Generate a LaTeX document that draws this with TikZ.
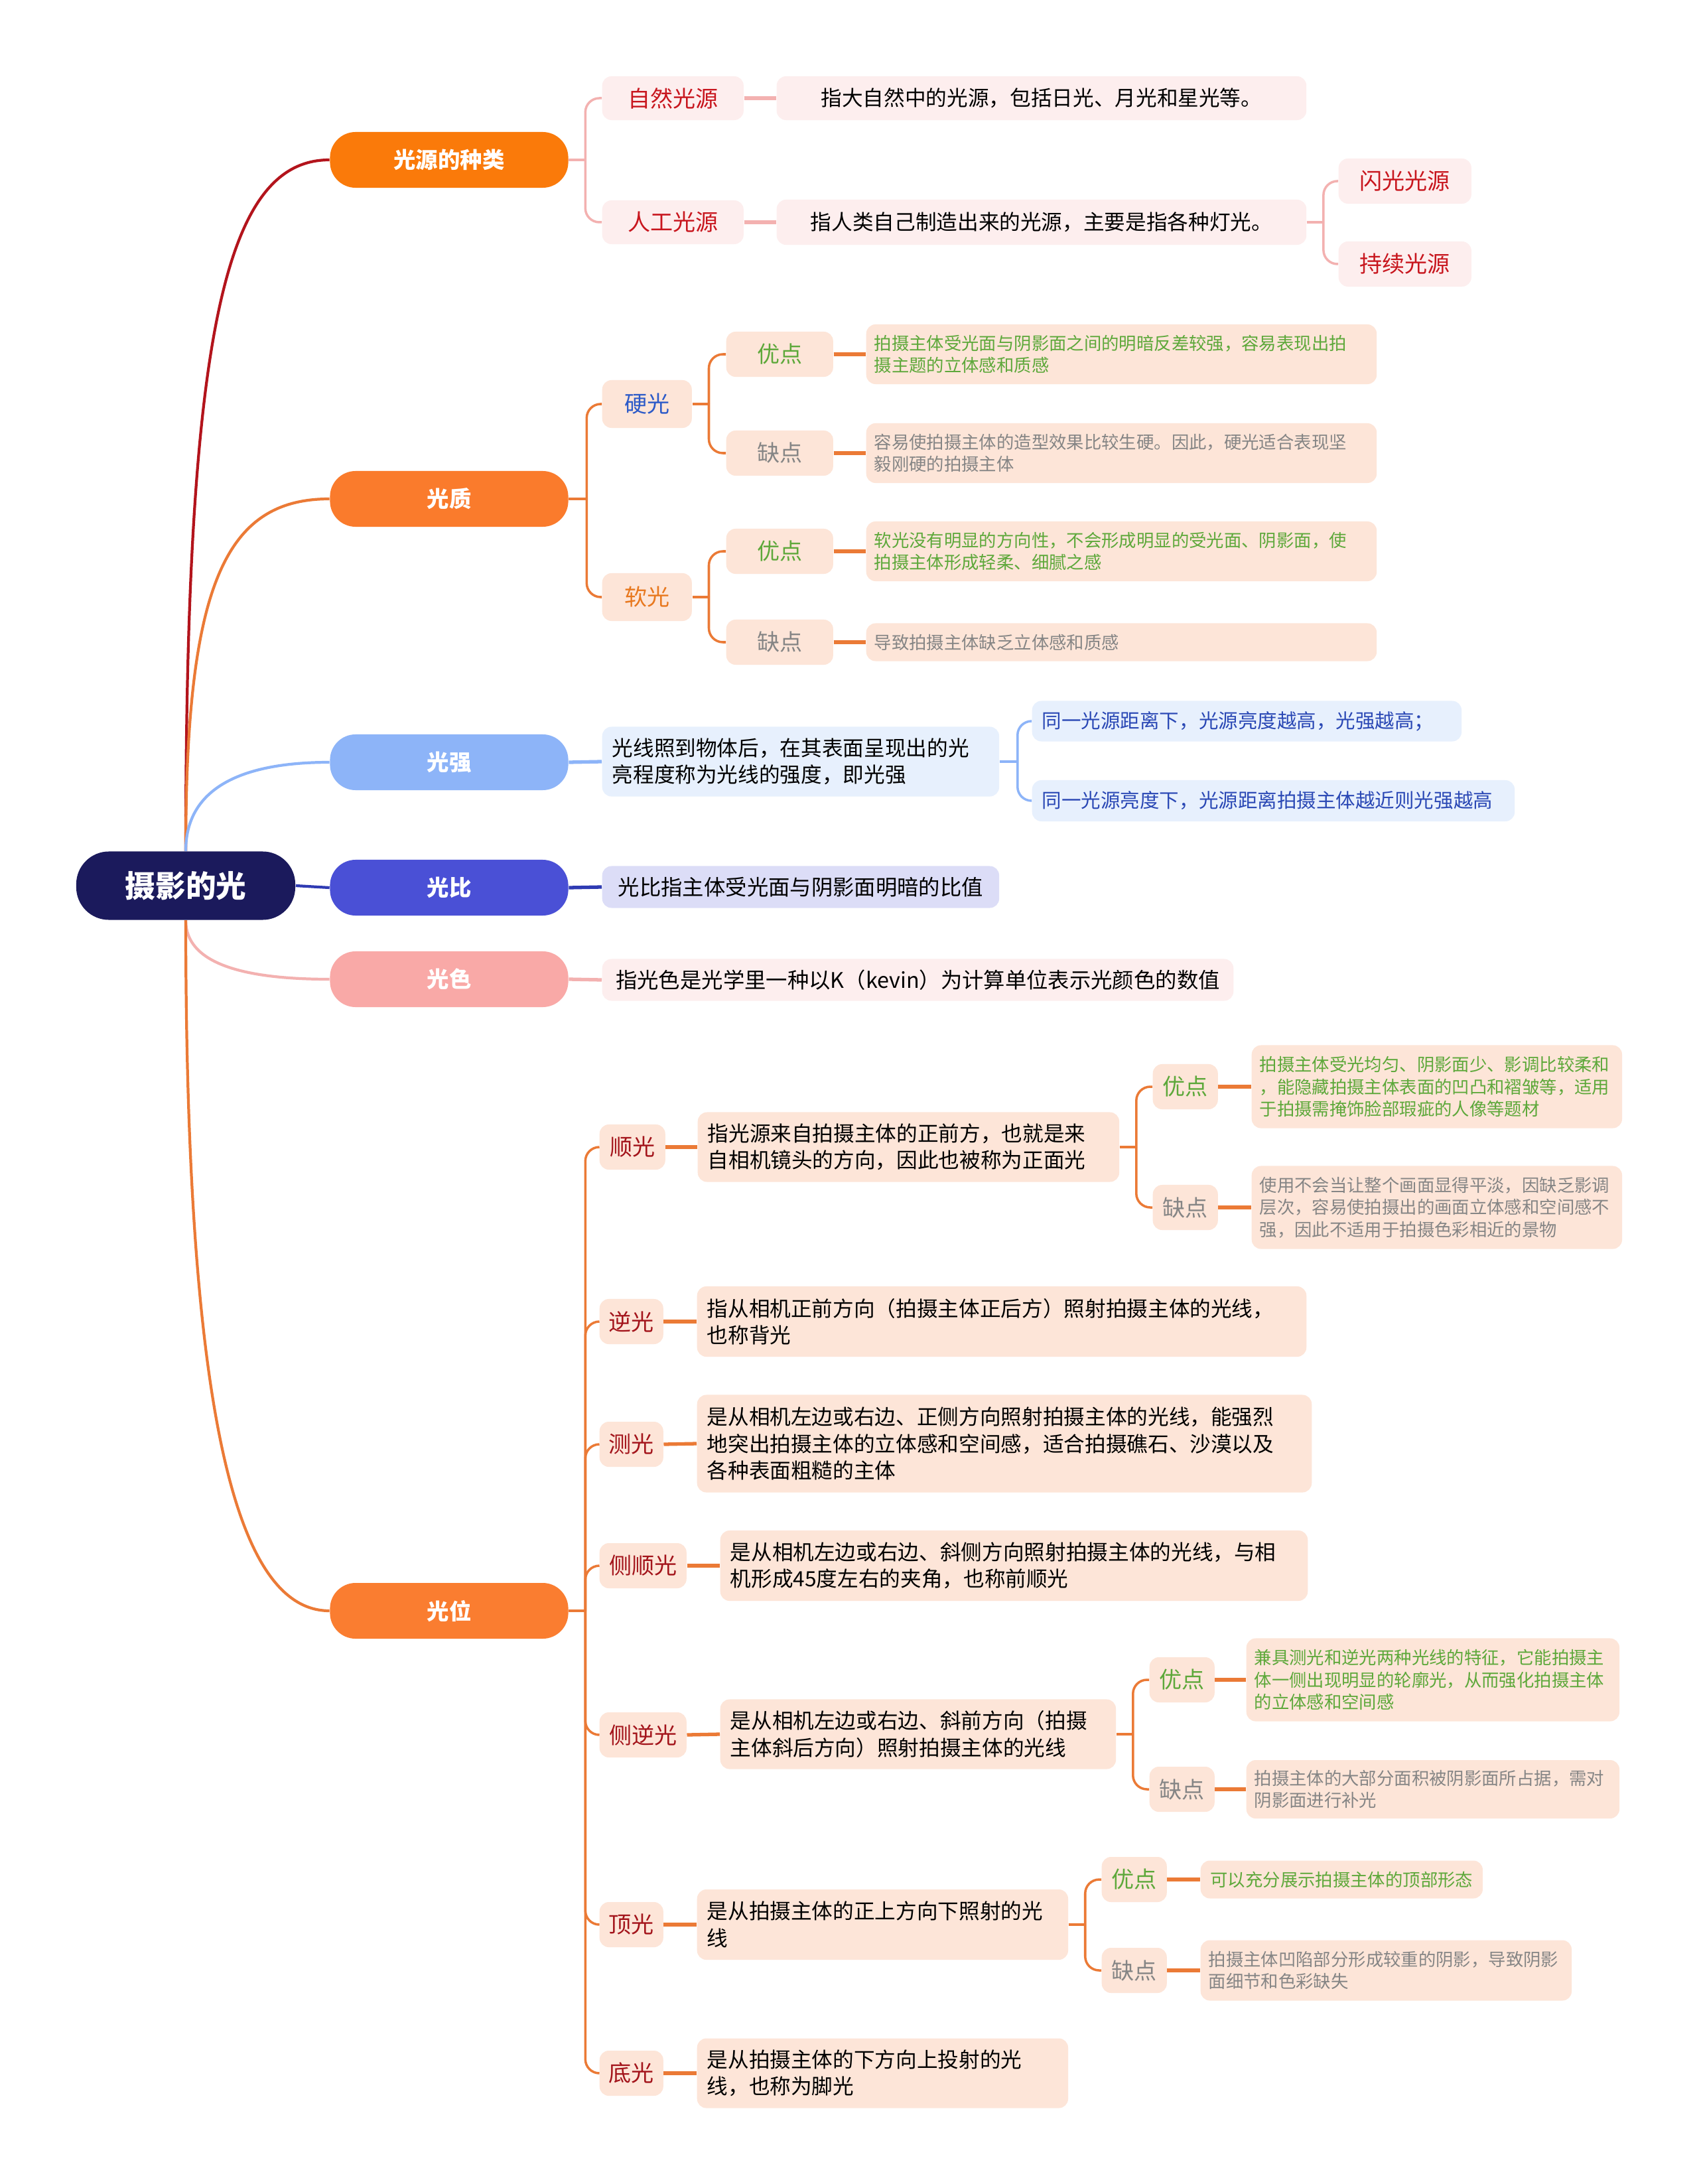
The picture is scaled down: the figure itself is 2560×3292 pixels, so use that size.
\documentclass[tikz,border=0pt]{standalone}
\usepackage{fontspec}
\setmainfont{Noto Sans CJK SC}
\usepackage{tikz}
\usetikzlibrary{positioning}

\definecolor{navy}{HTML}{1B1A5C}
\definecolor{kindor}{HTML}{FA7A0A}
\definecolor{kindln}{HTML}{B3141C}
\definecolor{qualor}{HTML}{FA7B2C}
\definecolor{orln}{HTML}{EB7A36}
\definecolor{intbl}{HTML}{8DB4F8}
\definecolor{ratbl}{HTML}{4A50D6}
\definecolor{ratln}{HTML}{2F3BB3}
\definecolor{colpk}{HTML}{F9A9A7}
\definecolor{pkln}{HTML}{F3B1B0}
\definecolor{posor}{HTML}{FA7D30}
\definecolor{pkbox}{HTML}{FDEEEE}
\definecolor{peach}{HTML}{FDE5D8}
\definecolor{bluebox}{HTML}{E7F0FD}
\definecolor{lavbox}{HTML}{DCDDF7}
\definecolor{redtx}{HTML}{C8161E}
\definecolor{dredtx}{HTML}{A3141B}
\definecolor{bluetx}{HTML}{2C5AC8}
\definecolor{oratx}{HTML}{E8781E}
\definecolor{greentx}{HTML}{5DA83A}
\definecolor{graytx}{HTML}{858585}
\definecolor{navytx}{HTML}{2A48B5}

\begin{document}
\begin{tikzpicture}[x=0.01cm, y=-0.01cm,
  topic/.style={rounded corners=11pt, minimum width=3.59cm, minimum height=0.84cm, text=white, font=\fontsize{9.5}{11}\selectfont\bfseries},
  tag/.style={rounded corners=4pt, anchor=west, inner sep=0pt, minimum height=0.68cm, font=\fontsize{9.7}{11}\selectfont},
  note/.style={rounded corners=4pt, anchor=west, inner xsep=0.15cm, inner ysep=0pt, align=left, font=\fontsize{9}{11.5}\selectfont},
  fine/.style={note, inner xsep=0.12cm, font=\fontsize{7.5}{9.5}\selectfont},
  link/.style={line width=1pt, rounded corners=6pt},
  bold link/.style={line width=1.5pt},
  trunk/.style={line width=1.2pt},
  pro/.style={tag, fill=peach, text=greentx, minimum width=0.98cm},
  con/.style={tag, fill=peach, text=graytx, minimum width=0.98cm},
  pos tag/.style={tag, fill=peach, text=dredtx},
]
  \fill[white] (0,0) rectangle (2560,3292);
  \useasboundingbox (0,0) rectangle (2560,3292);

  % Root and main topics.
  \node[fill=navy, rounded corners=14pt, minimum width=3.3cm, minimum height=1.03cm, text=white,
        font=\fontsize{13}{15}\selectfont\bfseries] (root) at (280,1335) {摄影的光};
  \node[topic, fill=kindor] (kind)  at (677,241)  {光源的种类};
  \node[topic, fill=qualor] (qual)  at (677,752)  {光质};
  \node[topic, fill=intbl]  (inten) at (677,1149) {光强};
  \node[topic, fill=ratbl]  (ratio) at (677,1338) {光比};
  \node[topic, fill=colpk]  (hue)   at (677,1476) {光色};
  \node[topic, fill=posor]  (pos)   at (677,2428) {光位};

  \draw[trunk, kindln] (root.north) .. controls (280,500) and (340,241) .. (kind.west);
  \draw[trunk, orln]   (root.north) .. controls (280,880) and (340,752) .. (qual.west);
  \draw[trunk, intbl]  (root.north) .. controls (280,1190) and (360,1149) .. (inten.west);
  \draw[trunk, ratln]  (root.east) -- (ratio.west);
  \draw[trunk, pkln]   (root.south) .. controls (280,1450) and (360,1476) .. (hue.west);
  \draw[trunk, orln]   (root.south) .. controls (280,2150) and (360,2428) .. (pos.west);

  % Kinds of light source.
  \node[tag, fill=pkbox, text=redtx, minimum width=2.13cm, minimum height=0.66cm] (nat) at (907,148) {自然光源};
  \node[tag, fill=pkbox, text=redtx, minimum width=2.13cm, minimum height=0.66cm] (art) at (907,335) {人工光源};
  \node[note, fill=pkbox, minimum width=7.98cm, minimum height=0.66cm] (natd) at (1170,148) {指大自然中的光源，包括日光、月光和星光等。};
  \node[note, fill=pkbox, minimum width=7.98cm, minimum height=0.68cm] (artd) at (1170,335) {指人类自己制造出来的光源，主要是指各种灯光。};
  \node[tag, fill=pkbox, text=redtx, minimum width=2.0cm] (flash) at (2017,273) {闪光光源};
  \node[tag, fill=pkbox, text=redtx, minimum width=2.0cm] (cont)  at (2017,398) {持续光源};

  \draw[link, pkln] (kind.east) -- ++(25,0);
  \foreach \c in {nat,art}
    \draw[link, pkln] (kind.east) ++(25,0) |- (\c.west);
  \draw[bold link, pkln] (nat.east) -- (natd.west);
  \draw[bold link, pkln] (art.east) -- (artd.west);
  \draw[link, pkln] (artd.east) -- ++(25,0);
  \foreach \c in {flash,cont}
    \draw[link, pkln] (artd.east) ++(25,0) |- (\c.west);

  % Quality of light.
  \node[tag, fill=peach, text=bluetx, minimum width=1.35cm, minimum height=0.72cm] (hard) at (907,609) {硬光};
  \node[tag, fill=peach, text=oratx, minimum width=1.35cm, minimum height=0.72cm] (soft) at (907,900) {软光};
  \node[pro, minimum width=1.61cm] (hpro) at (1094,534) {优点};
  \node[con, minimum width=1.61cm] (hcon) at (1094,683) {缺点};
  \node[pro, minimum width=1.61cm] (spro) at (1094,831) {优点};
  \node[con, minimum width=1.61cm] (scon) at (1094,968) {缺点};
  \node[fine, fill=peach, text=greentx, text width=7.45cm, minimum height=0.9cm] (hprod) at (1305,534)
    {拍摄主体受光面与阴影面之间的明暗反差较强，容易表现出拍\\摄主题的立体感和质感};
  \node[fine, fill=peach, text=graytx, text width=7.45cm, minimum height=0.9cm] (hcond) at (1305,683)
    {容易使拍摄主体的造型效果比较生硬。因此，硬光适合表现坚\\毅刚硬的拍摄主体};
  \node[fine, fill=peach, text=greentx, text width=7.45cm, minimum height=0.9cm] (sprod) at (1305,831)
    {软光没有明显的方向性，不会形成明显的受光面、阴影面，使\\拍摄主体形成轻柔、细腻之感};
  \node[fine, fill=peach, text=graytx, text width=7.45cm, minimum height=0.57cm] (scond) at (1305,968)
    {导致拍摄主体缺乏立体感和质感};

  \draw[link, orln] (qual.east) -- ++(27,0);
  \foreach \c in {hard,soft}
    \draw[link, orln] (qual.east) ++(27,0) |- (\c.west);
  \foreach \p/\a/\b in {hard/hpro/hcon, soft/spro/scon} {
    \draw[link, orln] (\p.east) -- ++(25,0);
    \draw[link, orln] (\p.east) ++(25,0) |- (\a.west);
    \draw[link, orln] (\p.east) ++(25,0) |- (\b.west);
  }
  \foreach \a/\b in {hpro/hprod, hcon/hcond, spro/sprod, scon/scond}
    \draw[bold link, orln] (\a.east) -- (\b.west);

  % Intensity, ratio, colour.
  \node[note, fill=bluebox, text width=5.68cm, minimum height=1.05cm] (intd) at (907,1148)
    {光线照到物体后，在其表面呈现出的光\\亮程度称为光线的强度，即光强};
  \node[note, fill=bluebox, text=navytx, text width=6.17cm, minimum height=0.61cm,
        font=\fontsize{8.4}{10}\selectfont] (int1) at (1555,1087) {同一光源距离下，光源亮度越高，光强越高；};
  \node[note, fill=bluebox, text=navytx, text width=6.97cm, minimum height=0.62cm,
        font=\fontsize{8.4}{10}\selectfont] (int2) at (1555,1207) {同一光源亮度下，光源距离拍摄主体越近则光强越高};
  \node[note, fill=lavbox, minimum width=5.98cm, minimum height=0.63cm,
        font=\fontsize{9.2}{11}\selectfont] (ratd) at (907,1337) {光比指主体受光面与阴影面明暗的比值};
  \node[note, fill=pkbox, minimum width=9.51cm, minimum height=0.63cm,
        font=\fontsize{9.2}{11}\selectfont] (hued) at (907,1477) {指光色是光学里一种以K（kevin）为计算单位表示光颜色的数值};

  \draw[bold link, intbl] (inten.east) -- (intd.west);
  \draw[link, intbl] (intd.east) -- ++(27,0);
  \foreach \c in {int1,int2}
    \draw[link, intbl] (intd.east) ++(27,0) |- (\c.west);
  \draw[bold link, ratln] (ratio.east) -- (ratd.west);
  \draw[bold link, pkln] (hue.east) -- (hued.west);

  % Direction of light.
  \node[pos tag, minimum width=0.99cm] (front)  at (903,1729) {顺光};
  \node[pos tag, minimum width=0.96cm] (back)   at (903,1992) {逆光};
  \node[pos tag, minimum width=0.96cm] (side)   at (903,2177) {测光};
  \node[pos tag, minimum width=1.31cm] (sfront) at (903,2360) {侧顺光};
  \node[pos tag, minimum width=1.31cm] (sback)  at (903,2615) {侧逆光};
  \node[pos tag, minimum width=0.96cm] (top)    at (903,2901) {顶光};
  \node[pos tag, minimum width=0.96cm] (bottom) at (903,3125) {底光};

  \node[note, fill=peach, text width=6.05cm, minimum height=1.05cm] (frontd) at (1051,1729)
    {指光源来自拍摄主体的正前方，也就是来\\自相机镜头的方向，因此也被称为正面光};
  \node[note, fill=peach, text width=8.88cm, minimum height=1.06cm] (backd) at (1050,1992)
    {指从相机正前方向（拍摄主体正后方）照射拍摄主体的光线，\\也称背光};
  \node[note, fill=peach, text width=8.96cm, minimum height=1.47cm] (sided) at (1050,2176)
    {是从相机左边或右边、正侧方向照射拍摄主体的光线，能强烈\\地突出拍摄主体的立体感和空间感，适合拍摄礁石、沙漠以及\\各种表面粗糙的主体};
  \node[note, fill=peach, text width=8.55cm, minimum height=1.06cm] (sfrontd) at (1085,2360)
    {是从相机左边或右边、斜侧方向照射拍摄主体的光线，与相\\机形成45度左右的夹角，也称前顺光};
  \node[note, fill=peach, text width=5.66cm, minimum height=1.05cm] (sbackd) at (1085,2614)
    {是从相机左边或右边、斜前方向（拍摄\\主体斜后方向）照射拍摄主体的光线};
  \node[note, fill=peach, text width=5.29cm, minimum height=1.06cm] (topd) at (1050,2901)
    {是从拍摄主体的正上方向下照射的光\\线};
  \node[note, fill=peach, text width=5.29cm, minimum height=1.05cm] (bottomd) at (1050,3125)
    {是从拍摄主体的下方向上投射的光\\线，也称为脚光};

  \node[pro] (fpro) at (1737,1638) {优点};
  \node[con] (fcon) at (1737,1820) {缺点};
  \node[fine, fill=peach, text=greentx, text width=5.34cm, minimum height=1.25cm] (fprod) at (1886,1638)
    {拍摄主体受光均匀、阴影面少、影调比较柔和\\，能隐藏拍摄主体表面的凹凸和褶皱等，适用\\于拍摄需掩饰脸部瑕疵的人像等题材};
  \node[fine, fill=peach, text=graytx, text width=5.34cm, minimum height=1.25cm] (fcond) at (1886,1820)
    {使用不会当让整个画面显得平淡，因缺乏影调\\层次，容易使拍摄出的画面立体感和空间感不\\强，因此不适用于拍摄色彩相近的景物};

  \node[pro] (bpro) at (1732,2532) {优点};
  \node[con] (bcon) at (1732,2697) {缺点};
  \node[fine, fill=peach, text=greentx, text width=5.38cm, minimum height=1.25cm] (bprod) at (1878,2532)
    {兼具测光和逆光两种光线的特征，它能拍摄主\\体一侧出现明显的轮廓光，从而强化拍摄主体\\的立体感和空间感};
  \node[fine, fill=peach, text=graytx, text width=5.38cm, minimum height=0.88cm] (bcond) at (1878,2697)
    {拍摄主体的大部分面积被阴影面所占据，需对\\阴影面进行补光};

  \node[pro] (tpro) at (1660,2833) {优点};
  \node[con] (tcon) at (1660,2970) {缺点};
  \node[fine, fill=peach, text=greentx, minimum width=4.25cm, minimum height=0.57cm] (tprod) at (1809,2833)
    {可以充分展示拍摄主体的顶部形态};
  \node[fine, fill=peach, text=graytx, text width=5.35cm, minimum height=0.91cm] (tcond) at (1809,2970)
    {拍摄主体凹陷部分形成较重的阴影，导致阴影\\面细节和色彩缺失};

  \draw[link, orln] (pos.east) -- ++(25,0);
  \foreach \c in {front,back,side,sfront,sback,top,bottom}
    \draw[link, orln] (pos.east) ++(25,0) |- (\c.west);
  \foreach \a/\b in {front/frontd, back/backd, side/sided, sfront/sfrontd, sback/sbackd, top/topd, bottom/bottomd,
                     fpro/fprod, fcon/fcond, bpro/bprod, bcon/bcond, tpro/tprod, tcon/tcond}
    \draw[bold link, orln] (\a.east) -- (\b.west);
  \foreach \p/\a/\b in {frontd/fpro/fcon, sbackd/bpro/bcon, topd/tpro/tcon} {
    \draw[link, orln] (\p.east) -- ++(25,0);
    \draw[link, orln] (\p.east) ++(25,0) |- (\a.west);
    \draw[link, orln] (\p.east) ++(25,0) |- (\b.west);
  }
\end{tikzpicture}
\end{document}
